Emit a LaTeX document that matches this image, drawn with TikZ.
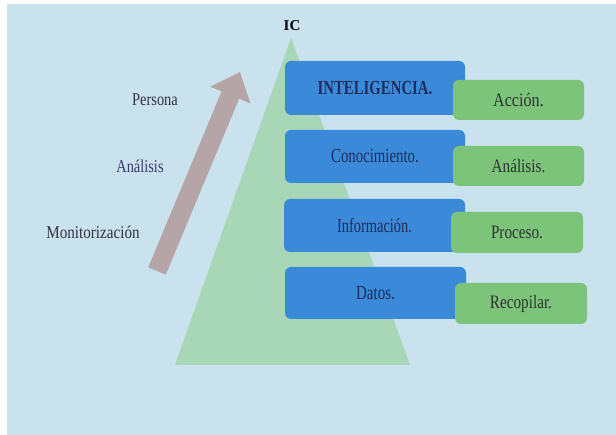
\documentclass[tikz,border=0pt]{standalone}
\usepackage{fontspec}
\usepackage{graphicx}
\setmainfont{Liberation Serif}
\usetikzlibrary{arrows.meta}
\definecolor{bgc}{HTML}{CAE2EE}
\definecolor{trig}{HTML}{A7D7B6}
\definecolor{bluebox}{HTML}{3B8AD9}
\definecolor{greenbox}{HTML}{7DC47B}
\definecolor{arrowc}{HTML}{B5A5A7}
\definecolor{navytext}{HTML}{1E2D5C}
\definecolor{darktext}{HTML}{2C3430}
\definecolor{labeltext}{HTML}{2E3440}
\definecolor{purpletext}{HTML}{3A3A6E}
\newcommand{\narrowtxt}[2]{\scalebox{#1}[1]{#2}}
\tikzset{
  bluestep/.style={rectangle, rounded corners=6pt, fill=bluebox, text=navytext,
    inner sep=0pt, font=\fontsize{20}{22}\selectfont},
  greenstep/.style={rectangle, rounded corners=6pt, fill=greenbox, text=darktext,
    inner sep=0pt, font=\fontsize{19}{21}\selectfont},
  sidelabel/.style={text=labeltext, inner sep=0pt, font=\fontsize{18}{20}\selectfont},
}
\begin{document}
\begin{tikzpicture}[x=1pt,y=-1pt]
\useasboundingbox (0,0) rectangle (616,435);
\fill[white] (0,0) rectangle (616,435);
\fill[bgc] (7,4) rectangle (616,435);
% pyramid
\coordinate (apex) at (291,38);
\coordinate (bl) at (175,365);
\coordinate (br) at (410,365);
\fill[trig] (apex) -- (bl) -- (br) -- cycle;
\node[font=\bfseries\fontsize{15}{17}\selectfont, text=black, inner sep=0pt] (ic) at (292,26) {IC};
% rising arrow
\coordinate (arrbot) at (157,271);
\coordinate (arrtip) at (240,72);
\draw[arrowc, line width=19pt, -{Triangle[length=25pt,width=42pt]}] (arrbot) -- (arrtip);
% side labels
\node[sidelabel] (persona) at (155,100) {\narrowtxt{0.8}{Persona}};
\node[sidelabel, text=purpletext] (analisisL) at (140,166) {\narrowtxt{0.8}{Análisis}};
\node[sidelabel] (monit) at (93,232) {\narrowtxt{0.84}{Monitorización}};
% blue boxes
\node[bluestep, minimum width=180pt, minimum height=54pt] (intel) at (375,88)
  {\raisebox{-1pt}{\narrowtxt{0.74}{\textbf{INTELIGENCIA.}}}};
\node[bluestep, minimum width=180pt, minimum height=53pt] (conoc) at (375,156.5)
  {\raisebox{-1pt}{\narrowtxt{0.74}{Conocimiento.}}};
\node[bluestep, minimum width=181pt, minimum height=53pt] (infor) at (374.5,225.5)
  {\narrowtxt{0.72}{Información.}};
\node[bluestep, minimum width=181pt, minimum height=52pt] (datos) at (375.5,293)
  {\raisebox{-1pt}{\narrowtxt{0.75}{Datos.}}};
% green boxes
\node[greenstep, minimum width=131pt, minimum height=40pt] (accion) at (518.5,100)
  {\narrowtxt{0.85}{Acción.}};
\node[greenstep, minimum width=131pt, minimum height=40pt] (analisis) at (518.5,166)
  {\narrowtxt{0.8}{Análisis.}};
\node[greenstep, minimum width=132pt, minimum height=41pt] (proceso) at (517,232.5)
  {\narrowtxt{0.8}{Proceso.}};
\node[greenstep, minimum width=132pt, minimum height=41pt] (recop) at (521,303.5)
  {\narrowtxt{0.8}{Recopilar.}};
\end{tikzpicture}
\end{document}
